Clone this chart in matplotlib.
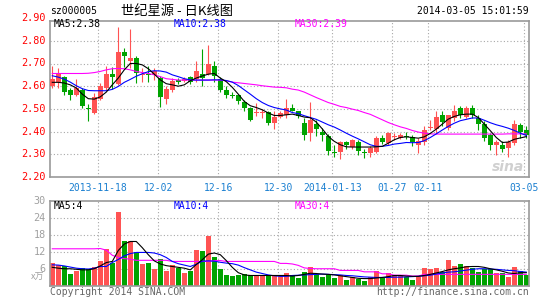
import matplotlib
matplotlib.use('Agg')
import matplotlib.pyplot as plt
import numpy as np

# ================================================================================= #
#                                   Data                                            #
# ================================================================================= #
# daily candles, 2013-11-06 .. 2014-03-05 (80 trading days)
opens = [2.60, 2.62, 2.64, 2.585, 2.56, 2.585, 2.505, 2.48, 2.545, 2.59,
         2.653, 2.61, 2.752, 2.71, 2.725, 2.648, 2.652, 2.65, 2.636, 2.545,
         2.585, 2.626, 2.625, 2.64, 2.63, 2.653, 2.653, 2.69, 2.63, 2.584,
         2.562, 2.56, 2.53, 2.503, 2.482, 2.482, 2.485, 2.44, 2.465, 2.475,
         2.504, 2.489, 2.44, 2.396, 2.433, 2.40, 2.382, 2.31, 2.308, 2.354,
         2.33, 2.354, 2.31, 2.305, 2.31, 2.374, 2.35, 2.377, 2.374, 2.38,
         2.376, 2.342, 2.354, 2.415, 2.412, 2.471, 2.415, 2.462, 2.504, 2.465,
         2.504, 2.462, 2.433, 2.383, 2.342, 2.342, 2.327, 2.35, 2.43, 2.408]
closes = [2.63, 2.66, 2.575, 2.56, 2.59, 2.514, 2.50, 2.552, 2.60, 2.653,
          2.642, 2.752, 2.734, 2.724, 2.656, 2.652, 2.648, 2.668, 2.552, 2.587,
          2.625, 2.62, 2.63, 2.62, 2.665, 2.638, 2.70, 2.645, 2.585, 2.56,
          2.558, 2.533, 2.503, 2.452, 2.486, 2.486, 2.44, 2.465, 2.48, 2.505,
          2.492, 2.467, 2.383, 2.452, 2.412, 2.383, 2.313, 2.307, 2.354, 2.34,
          2.362, 2.313, 2.307, 2.327, 2.371, 2.354, 2.393, 2.38, 2.383, 2.376,
          2.354, 2.357, 2.408, 2.42, 2.465, 2.442, 2.471, 2.489, 2.474, 2.504,
          2.474, 2.433, 2.371, 2.342, 2.354, 2.324, 2.354, 2.433, 2.40, 2.386]
highs = [2.69, 2.68, 2.645, 2.59, 2.63, 2.59, 2.52, 2.57, 2.614, 2.687,
         2.683, 2.86, 2.77, 2.85, 2.734, 2.68, 2.69, 2.68, 2.643, 2.60,
         2.635, 2.636, 2.64, 2.645, 2.71, 2.765, 2.78, 2.71, 2.64, 2.60,
         2.574, 2.565, 2.54, 2.51, 2.525, 2.50, 2.49, 2.49, 2.49, 2.545,
         2.52, 2.492, 2.46, 2.53, 2.452, 2.415, 2.39, 2.342, 2.36, 2.357,
         2.368, 2.364, 2.324, 2.335, 2.379, 2.383, 2.40, 2.393, 2.393, 2.40,
         2.386, 2.37, 2.423, 2.452, 2.489, 2.489, 2.474, 2.518, 2.511, 2.511,
         2.515, 2.474, 2.445, 2.393, 2.364, 2.357, 2.364, 2.452, 2.437, 2.423]
lows = [2.59, 2.59, 2.562, 2.54, 2.558, 2.504, 2.448, 2.477, 2.54, 2.584,
        2.589, 2.606, 2.684, 2.68, 2.614, 2.62, 2.62, 2.628, 2.51, 2.52,
        2.575, 2.61, 2.62, 2.61, 2.62, 2.60, 2.65, 2.62, 2.575, 2.547,
        2.547, 2.52, 2.49, 2.445, 2.467, 2.46, 2.427, 2.41, 2.46, 2.46,
        2.489, 2.46, 2.364, 2.36, 2.379, 2.36, 2.298, 2.29, 2.28, 2.323,
        2.324, 2.298, 2.283, 2.29, 2.305, 2.345, 2.342, 2.364, 2.368, 2.368,
        2.335, 2.305, 2.34, 2.408, 2.393, 2.423, 2.408, 2.445, 2.46, 2.46,
        2.46, 2.408, 2.36, 2.32, 2.298, 2.312, 2.29, 2.342, 2.371, 2.371]
vols = [8.0, 7.4, 7.1, 4.1, 5.3, 6.2, 5.9, 6.6, 8.6, 13.1,
        8.0, 26.1, 16.0, 16.0, 12.0, 7.7, 8.0, 6.0, 9.4, 5.1,
        7.2, 6.2, 4.5, 5.1, 12.6, 12.4, 17.7, 10.2, 6.0, 3.6,
        3.3, 3.6, 4.1, 3.6, 3.6, 3.6, 3.6, 3.6, 3.6, 4.5,
        3.6, 2.7, 4.8, 6.6, 4.1, 3.1, 4.1, 2.7, 3.9, 2.1,
        2.9, 2.3, 1.8, 3.1, 5.1, 3.1, 4.5, 3.6, 3.6, 3.1,
        2.1, 3.1, 6.2, 5.9, 6.2, 4.8, 9.1, 6.8, 7.7, 6.8,
        6.2, 4.8, 5.9, 5.9, 4.5, 4.5, 3.1, 6.6, 5.3, 3.9]

# moving averages as printed on the chart (price)
ma5 = [2.617, 2.617, 2.614, 2.606, 2.592, 2.565, 2.545, 2.543, 2.553, 2.574,
       2.606, 2.636, 2.672, 2.70, 2.70, 2.694, 2.677, 2.653, 2.628, 2.611,
       2.606, 2.60, 2.606, 2.624, 2.636, 2.645, 2.653, 2.656, 2.636, 2.62,
       2.595, 2.565, 2.533, 2.514, 2.506, 2.496, 2.482, 2.471, 2.471, 2.474,
       2.477, 2.471, 2.464, 2.461, 2.442, 2.412, 2.379, 2.357, 2.342, 2.333,
       2.332, 2.332, 2.332, 2.332, 2.333, 2.335, 2.349, 2.364, 2.374, 2.377,
       2.374, 2.371, 2.377, 2.392, 2.411, 2.433, 2.455, 2.467, 2.474, 2.477,
       2.477, 2.462, 2.433, 2.404, 2.374, 2.352, 2.354, 2.366, 2.372, 2.378]
ma10 = [2.646, 2.64, 2.631, 2.618, 2.602, 2.589, 2.581, 2.58, 2.58, 2.58,
        2.586, 2.599, 2.617, 2.63, 2.644, 2.655, 2.664, 2.668, 2.667, 2.662,
        2.65, 2.642, 2.633, 2.628, 2.627, 2.627, 2.627, 2.628, 2.628, 2.625,
        2.618, 2.603, 2.584, 2.565, 2.545, 2.528, 2.515, 2.506, 2.50, 2.495,
        2.484, 2.479, 2.47, 2.462, 2.454, 2.442, 2.43, 2.42, 2.407, 2.393,
        2.38, 2.368, 2.355, 2.342, 2.335, 2.335, 2.339, 2.345, 2.348, 2.352,
        2.351, 2.352, 2.36, 2.374, 2.39, 2.407, 2.423, 2.437, 2.448, 2.454,
        2.46, 2.46, 2.45, 2.439, 2.43, 2.423, 2.415, 2.405, 2.393, 2.383]
ma30 = [2.656, 2.656, 2.656, 2.656, 2.656, 2.656, 2.657, 2.66, 2.665, 2.672,
        2.677, 2.678, 2.677, 2.672, 2.665, 2.66, 2.656, 2.65, 2.642, 2.633,
        2.63, 2.627, 2.627, 2.627, 2.627, 2.627, 2.627, 2.627, 2.627, 2.624,
        2.618, 2.615, 2.612, 2.609, 2.606, 2.602, 2.599, 2.596, 2.595, 2.593,
        2.587, 2.583, 2.574, 2.562, 2.55, 2.539, 2.528, 2.52, 2.511, 2.506,
        2.499, 2.493, 2.484, 2.476, 2.464, 2.452, 2.44, 2.43, 2.421, 2.414,
        2.405, 2.398, 2.393, 2.39, 2.389, 2.389, 2.389, 2.389, 2.389, 2.389,
        2.389, 2.389, 2.389, 2.389, 2.389, 2.389, 2.39, 2.39, 2.39, 2.39]

# moving averages (volume, x10k)
vma5 = [6.5, 6.2, 6.0, 6.0, 5.8, 5.6, 5.6, 6.0, 7.0, 8.2,
        8.6, 12.5, 14.8, 15.7, 15.7, 13.5, 11.0, 8.8, 7.7, 7.1,
        6.8, 6.5, 6.2, 5.6, 7.5, 9.2, 11.2, 11.6, 11.0, 8.9,
        6.5, 4.6, 3.8, 3.6, 3.6, 3.6, 3.6, 3.6, 3.6, 3.6,
        3.4, 3.6, 4.0, 4.4, 4.3, 4.1, 4.0, 3.8, 3.5, 3.2,
        2.9, 2.6, 2.5, 2.5, 2.7, 2.9, 3.2, 3.6, 3.6, 3.4,
        3.3, 3.3, 3.6, 4.0, 4.5, 5.0, 5.6, 6.0, 6.3, 6.7,
        6.8, 6.8, 6.5, 6.0, 5.6, 5.1, 4.5, 4.3, 4.6, 4.6]
vma10 = [7.4, 7.3, 7.0, 6.6, 6.2, 6.0, 5.9, 6.2, 6.8, 6.8,
         8.2, 9.3, 10.6, 11.4, 11.8, 11.8, 11.8, 11.6, 11.0, 10.0,
         8.6, 7.8, 7.3, 6.8, 7.6, 8.7, 8.8, 8.7, 8.3, 8.0,
         7.8, 7.3, 6.4, 5.6, 4.8, 4.3, 3.8, 3.5, 3.3, 3.3,
         3.6, 3.7, 3.8, 3.9, 4.0, 4.1, 4.0, 3.9, 3.8, 3.6,
         3.5, 3.3, 3.1, 3.0, 2.9, 2.9, 2.9, 3.0, 3.0, 3.1,
         3.2, 3.3, 3.5, 3.7, 4.1, 4.5, 4.8, 4.9, 5.2, 5.5,
         5.8, 6.0, 6.0, 5.9, 5.8, 5.6, 5.4, 5.3, 5.0, 4.8]
vma30 = [13.1, 13.1, 13.1, 13.1, 13.1, 13.1, 13.1, 13.1, 13.2, 12.6,
         10.8, 10.0, 9.6, 9.4, 9.0, 9.0, 9.0, 9.0, 9.0, 9.0,
         8.6, 8.6, 8.6, 8.6, 8.6, 8.6, 8.6, 8.9, 8.9, 8.6,
         8.6, 8.6, 8.6, 8.6, 8.6, 8.6, 8.6, 8.6, 7.9, 7.9,
         7.7, 7.2, 6.3, 6.1, 6.0, 6.0, 6.0, 6.0, 5.4, 5.4,
         5.4, 5.4, 4.9, 4.9, 4.9, 4.2, 4.2, 3.7, 3.7, 3.7,
         3.4, 3.4, 4.0, 4.0, 4.0, 4.0, 4.0, 4.0, 4.0, 4.0,
         4.0, 4.0, 4.0, 4.0, 4.0, 4.0, 4.0, 4.0, 4.0, 4.0]

tick_idx = [8, 18, 28, 38, 47, 57, 63, 79]
tick_labels = ['2013-11-18', '12-02', '12-16', '12-30', '2014-01-13', '01-27', '02-11', '03-05']
price_ticks = [2.20, 2.30, 2.40, 2.50, 2.60, 2.70, 2.80, 2.90]
vol_ticks = [6, 12, 18, 24, 30]

# ================================================================================= #
#                                   Plot                                            #
# ================================================================================= #
W, H = 545, 300
RED = '#ff5353'
GREEN = '#00a300'
GRID = '#a8a8a8'
EDGE = '#9a9a9a'
MONO = 'DejaVu Sans Mono'
FS = 7.0

fig = plt.figure(figsize=(W / 100, H / 100), dpi=100)
fig.patch.set_facecolor('white')

def frac(x0, y0, x1, y1):
    return [x0 / W, 1 - y1 / H, (x1 - x0) / W, (y1 - y0) / H]

ax = fig.add_axes(frac(50, 20.7, 529, 177))
axv = fig.add_axes(frac(50, 201.3, 529, 285.6))

n = len(opens)
x = np.arange(n)
o = np.array(opens); c = np.array(closes)
up = c >= o
cols = [RED if u else GREEN for u in up]

# candles
ax.vlines(x, lows, highs, colors=cols, linewidth=0.8, zorder=2)
body_h = np.maximum(np.abs(c - o), 0.004)
ax.bar(x, body_h, bottom=np.minimum(o, c), width=0.82, color=cols, linewidth=0, zorder=3)
ax.plot(x, ma30, color='#ff00ff', lw=0.8, zorder=4)
ax.plot(x, ma10, color='#0000ff', lw=0.8, zorder=4)
ax.plot(x, ma5, color='black', lw=0.8, zorder=5)

# volume
axv.bar(x, vols, width=0.82, color=cols, linewidth=0, zorder=2)
axv.plot(x, vma30, color='#ff00ff', lw=0.8, zorder=3)
axv.plot(x, vma10, color='#0000ff', lw=0.8, zorder=3)
axv.plot(x, vma5, color='black', lw=0.8, zorder=4)

xl = (-0.38, 79.45)
grid_x = [i - 0.35 for i in tick_idx]
for a in (ax, axv):
    a.set_xlim(*xl)
    a.set_xticks(grid_x)
    a.tick_params(length=0)
    for s in a.spines.values():
        s.set_color(EDGE)
        s.set_linewidth(1.2)
    a.set_axisbelow(True)
    a.grid(True, color=GRID, linestyle=(0, (1, 2)), linewidth=0.8)

ax.set_ylim(2.20, 2.20 + 156.3 / 227)
ax.set_yticks(price_ticks[1:-1])
ax.set_yticklabels([])
ax.set_xticklabels(tick_labels, color='#1a7fd0', fontsize=FS, family=MONO)
ax.tick_params(axis='x', pad=4)
for v in price_ticks:
    ax.text(-0.009, v, '%.2f' % v, transform=ax.get_yaxis_transform(), ha='right',
            va='center', color='#ff0000', fontsize=FS + 0.3, family=MONO)

axv.set_ylim(0, 30)
axv.set_yticks(vol_ticks[:-1])
axv.set_yticklabels([])
axv.set_xticklabels([])
for v in vol_ticks:
    axv.text(-0.009, v, str(v), transform=axv.get_yaxis_transform(), ha='right',
             va='center', color='#a0a0a0', fontsize=FS + 0.3, family=MONO)

# texts
def t(xp, yp, s, **kw):
    kw.setdefault('family', MONO)
    kw.setdefault('fontsize', FS)
    kw.setdefault('va', 'center')
    fig.text(xp / W, 1 - yp / H, s, **kw)

t(50, 11, 'sz000005', color='black')
t(177, 11, '世纪星源 - 日K线图', ha='center', fontsize=9.5,
  family=['Noto Sans CJK SC', 'DejaVu Sans'])
t(529, 11, '2014-03-05 15:01:59', ha='right', color='black')
t(54, 24, 'MA5:%.2f' % ma5[-1], color='black')
t(174, 24, 'MA10:%.2f' % ma10[-1], color='#0000ff')
t(295, 24, 'MA30:%.2f' % ma30[-1], color='#ff00ff')
t(54, 206, 'MA5:%d' % int(vma5[-1] + 1e-9), color='black')
t(174, 206, 'MA10:%d' % int(vma10[-1] + 1e-9), color='#0000ff')
t(295, 206, 'MA30:%d' % int(vma30[-1] + 1e-9), color='#ff00ff')
t(38, 277, 'x万', ha='center', color='#a0a0a0', fontsize=6.5, style='italic',
  family=['Noto Sans CJK SC', 'DejaVu Sans'])
t(50, 292, 'Copyright 2014 SINA.COM', color='#666666')
t(529, 292, 'http://finance.sina.com.cn', ha='right', color='#666666')
t(508, 167, 'sina', ha='center', color='#d0d0d0', fontsize=10, style='italic',
  weight='bold', family='DejaVu Sans')

fig.savefig('out.png', dpi=100)
